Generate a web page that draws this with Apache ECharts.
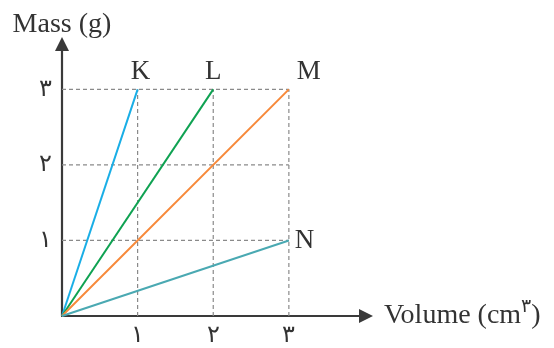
<!DOCTYPE html>
<html>
<head>
  <meta charset="utf-8">
</head>
<body style="height: 100%; margin: 0">
  <div id="container" style="width: 554px; height: 348px"></div>
  <script type="text/javascript" src="https://cdn.jsdelivr.net/npm/echarts@6/dist/echarts.min.js"></script>
  <script type="text/javascript">
    // ticks and their persian labels
    var ticks = [1, 2, 3];
    var tickLabels = { 1: '۱', 2: '۲', 3: '۳' };

    // substances: name, end point (volume, mass)
    var names = ['K', 'L', 'M', 'N'];
    var volumes = [1, 2, 3, 3];
    var masses = [3, 3, 3, 1];
    var colors = ['#19aee6', '#0fa252', '#f7893a', '#4aa9b2'];
    var labelPos = ['top', 'top', 'top', 'right'];
    var labelOffset = [[3, 0], [0, 0], [20, 0], [2, 0]];

    var serif = '"Liberation Serif", "DejaVu Serif", serif';
    var dom = document.getElementById('container');
    var myChart = echarts.init(dom, null, { renderer: 'canvas' });

    var series = [];
    // dashed guide lines
    ticks.forEach(function (k) {
      series.push({
        type: 'line', silent: true, symbol: 'none',
        lineStyle: { color: '#8a8a8a', width: 1.2, type: [4, 3] },
        data: [[0, k], [3, k]]
      });
      series.push({
        type: 'line', silent: true, symbol: 'none',
        lineStyle: { color: '#8a8a8a', width: 1.2, type: [4, 3] },
        data: [[k, 0], [k, 3]]
      });
    });
    names.forEach(function (n, i) {
      series.push({
        name: n,
        type: 'line',
        symbolSize: 0,
        z: 5,
        lineStyle: { color: colors[i], width: 2 },
        itemStyle: { color: colors[i] },
        data: [
          [0, 0],
          {
            value: [volumes[i], masses[i]],
            label: {
              show: true, position: labelPos[i], offset: labelOffset[i],
              formatter: n, color: '#333', fontSize: 27, fontFamily: serif,
              distance: 4
            }
          }
        ]
      });
    });

    var option = {
      animation: false,
      grid: { left: 62, right: 188, top: 44, bottom: 30 },
      xAxis: {
        type: 'value', min: 0, max: 4.02, interval: 1,
        splitLine: { show: false },
        axisTick: { show: false },
        axisLine: { lineStyle: { color: '#3a3a3a', width: 2.2 }, symbol: ['none', 'triangle'], symbolSize: [14, 14] },
        axisLabel: {
          showMaxLabel: false, margin: 8, color: '#333', fontSize: 24, fontFamily: serif,
          formatter: function (v) { return tickLabels[v] || ''; }
        },
        name: 'Volume (cm{s|۳})',
        nameLocation: 'end',
        nameGap: 18,
        nameTextStyle: {
          color: '#333', fontSize: 28, fontFamily: serif,
          rich: { s: { fontSize: 19, verticalAlign: 'top', padding: [0, 0, 17, 0], color: '#333', fontFamily: serif } }
        }
      },
      yAxis: {
        type: 'value', min: 0, max: 3.6, interval: 1,
        splitLine: { show: false },
        axisTick: { show: false },
        axisLine: { lineStyle: { color: '#3a3a3a', width: 2.2 }, symbol: ['none', 'triangle'], symbolSize: [14, 14] },
        axisLabel: {
          showMaxLabel: false, margin: 10, color: '#333', fontSize: 24, fontFamily: serif,
          formatter: function (v) { return tickLabels[v] || ''; }
        },
        name: 'Mass (g)',
        nameLocation: 'end',
        nameGap: 5,
        nameTextStyle: { color: '#333', fontSize: 28, fontFamily: serif, align: 'center' }
      },
      series: series
    };

    myChart.setOption(option);
    window.addEventListener('resize', myChart.resize);
  </script>
</body>
</html>
